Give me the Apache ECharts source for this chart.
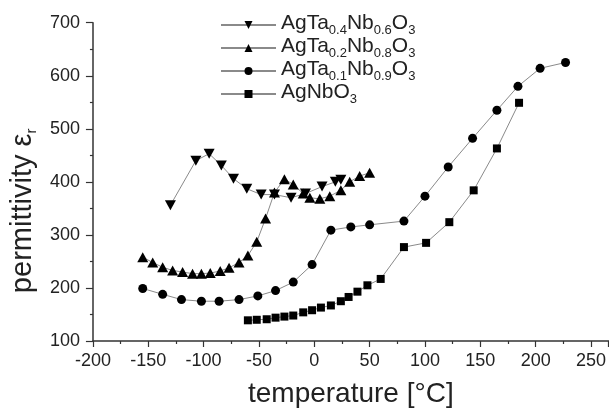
<!DOCTYPE html>
<html>
<head>
<meta charset="utf-8">
<script src="https://cdn.jsdelivr.net/npm/echarts@6/dist/echarts.min.js"></script>
<style>html,body{margin:0;padding:0;background:#fff;}#c{width:609px;height:417px;}</style>
</head>
<body>
<div id="c"></div>
<script>
// ---- data ----
const seriesNames = ['AgTa0.4Nb0.6O3', 'AgTa0.2Nb0.8O3', 'AgTa0.1Nb0.9O3', 'AgNbO3'];

const ta04X = [-130, -107, -95, -84, -73, -61, -48, -36, -21, -8, 7, 19, 24];
const ta04Y = [356, 440, 453, 431, 406, 387, 376, 376, 370, 378, 391, 400, 404];

const ta02X = [-155, -146, -137, -128, -119, -110, -102, -94, -85, -77, -68, -60, -52, -44, -36, -27, -19, -10, -4, 5, 14, 24, 32, 41, 50];
const ta02Y = [258, 248, 239, 233, 230, 227, 227, 228, 232, 238, 248, 261, 287, 331, 380, 405, 395, 378, 370, 368, 373, 384, 400, 411, 417];

const ta01X = [-155, -137, -120, -102, -86, -68, -51, -35, -19, -2, 15, 33, 50, 81, 100, 121, 143, 165, 184, 204, 227];
const ta01Y = [199, 188, 178, 175, 175, 178, 185, 195, 211, 244, 309, 315, 319, 326, 373, 428, 482, 535, 580, 614, 625];

const nbX = [-60, -52, -43, -35, -27, -19, -10, -2, 6, 15, 24, 31, 39, 48, 60, 81, 101, 122, 144, 165, 185];
const nbY = [139, 140, 141, 144, 146, 148, 154, 158, 163, 167, 175, 183, 193, 205, 217, 277, 285, 324, 384, 463, 549];

const xTickLabels = [-200, -150, -100, -50, 0, 50, 100, 150, 200, 250];
const yTickLabels = [100, 200, 300, 400, 500, 600, 700];

// ---- build ----
function zip(xs, ys) { return xs.map((x, i) => [x, ys[i]]); }
const FONT = 'Liberation Sans, Arial, Helvetica, sans-serif';
const legendRich = {
  n: { fontSize: 21, fontFamily: FONT, color: '#222', lineHeight: 24, verticalAlign: 'top' },
  s: { fontSize: 13, fontFamily: FONT, color: '#222', lineHeight: 14, verticalAlign: 'top', padding: [11, 0, 0, 0] }
};
const legendFmt = {
  'AgTa0.4Nb0.6O3': '{n|AgTa}{s|0.4}{n|Nb}{s|0.6}{n|O}{s|3}',
  'AgTa0.2Nb0.8O3': '{n|AgTa}{s|0.2}{n|Nb}{s|0.8}{n|O}{s|3}',
  'AgTa0.1Nb0.9O3': '{n|AgTa}{s|0.1}{n|Nb}{s|0.9}{n|O}{s|3}',
  'AgNbO3': '{n|AgNbO}{s|3}'
};
const invTri = 'path://M0,0 L10,0 L5,9 Z';
const upTri = 'path://M5,0 L10,9 L0,9 Z';

function mk(name, xs, ys, symbol, size) {
  return {
    name: name, type: 'line', data: zip(xs, ys),
    symbol: symbol, symbolSize: size, showAllSymbol: true,
    lineStyle: { color: '#8a8a8a', width: 1 },
    itemStyle: { color: '#000' },
    emphasis: { disabled: true },
    animation: false
  };
}

const chart = echarts.init(document.getElementById('c'));
chart.setOption({
  animation: false,
  backgroundColor: '#fff',
  grid: { left: 92.7, right: 0, top: 22.7, bottom: 76 },
  legend: {
    orient: 'vertical', left: 215, top: 8, itemWidth: 55, itemHeight: 10, itemGap: -1,
    data: seriesNames,
    formatter: function (n) { return legendFmt[n]; },
    textStyle: { rich: legendRich },
    selectedMode: false
  },
  xAxis: {
    type: 'value', min: -200, max: 266, interval: 50,
    name: 'temperature [°C]', nameLocation: 'middle', nameGap: 39,
    nameTextStyle: { fontSize: 28, fontFamily: FONT, color: '#222' },
    axisLine: { onZero: false, lineStyle: { color: '#333', width: 1.5 } },
    axisTick: { inside: false, length: 6, lineStyle: { color: '#333', width: 1.2 } },
    minorTick: { show: true, splitNumber: 2, length: 3, lineStyle: { color: '#333', width: 1.2 } },
    axisLabel: { fontSize: 18, fontFamily: FONT, color: '#222', margin: 11, showMaxLabel: false,
      formatter: function (v) { return xTickLabels.indexOf(v) >= 0 ? String(v) : ''; } },
    splitLine: { show: false }
  },
  yAxis: {
    type: 'value', min: 100, max: 700, interval: 100,
    name: '{a|permittivity ε}{b|r}', nameLocation: 'middle', nameGap: 54,
    nameTextStyle: { padding: [0, 58, 0, 0], rich: {
      a: { fontSize: 29, fontFamily: FONT, color: '#222', lineHeight: 30, verticalAlign: 'top' },
      b: { fontSize: 15, fontFamily: FONT, color: '#222', lineHeight: 15, verticalAlign: 'top', padding: [16, 0, 0, 0] }
    } },
    axisLine: { onZero: false, lineStyle: { color: '#333', width: 1.5 } },
    axisTick: { inside: false, length: 7, lineStyle: { color: '#333', width: 1.2 } },
    minorTick: { show: true, splitNumber: 2, length: 3, lineStyle: { color: '#333', width: 1.2 } },
    axisLabel: { fontSize: 18, fontFamily: FONT, color: '#222', margin: 13,
      formatter: function (v) { return yTickLabels.indexOf(v) >= 0 ? String(v) : ''; } },
    splitLine: { show: false }
  },
  series: [
    mk(seriesNames[0], ta04X, ta04Y, invTri, [11, 10]),
    mk(seriesNames[1], ta02X, ta02Y, upTri, [11, 10]),
    mk(seriesNames[2], ta01X, ta01Y, 'circle', 9),
    mk(seriesNames[3], nbX, nbY, 'rect', 8)
  ]
});
</script>
</body>
</html>
